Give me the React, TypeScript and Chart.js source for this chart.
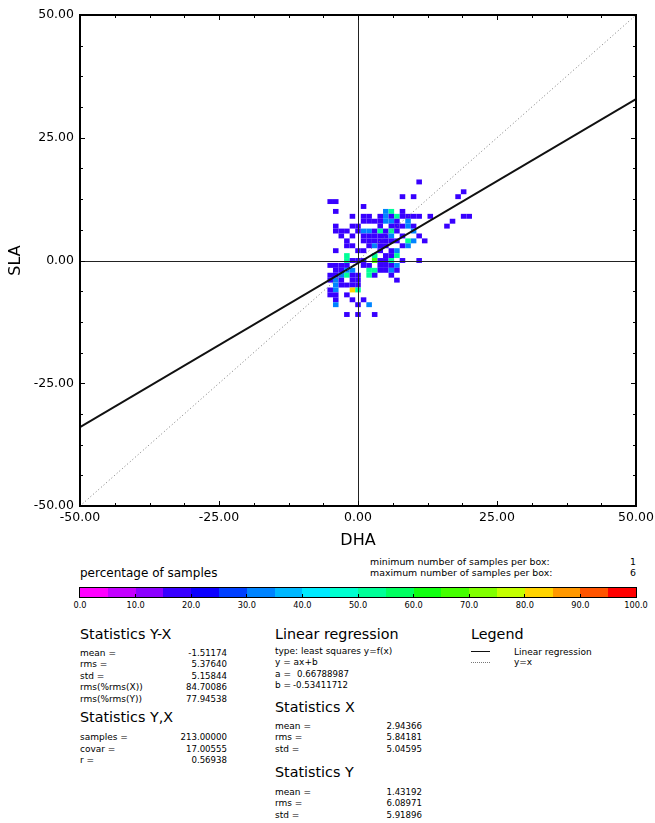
import React, { useEffect, useRef } from 'react';
import { Chart, registerables } from 'chart.js';

Chart.register(...registerables);

const FONT = '"DejaVu Sans", sans-serif';

// ---- data ----
const rowY = [16, 14, 13, 12, 11, 10, 9, 8, 7, 6, 5, 4, 3, 2, 1, 0, -1, -2, -3, -4, -5, -6, -7, -8, -9, -11];
const rowCellX = [
  [11],
  [19],
  [8, 10, 18],
  [-5, -4],
  [1],
  [-4, 5, 6, 8],
  [-1, 1, 2, 4, 5, 6, 7, 8, 9, 10, 11, 13, 19, 20],
  [1, 2, 3, 4, 5, 6, 7, 9, 17],
  [-4, -1, 0, 4, 6, 7, 8, 9, 10, 16],
  [-4, -3, -2, 0, 1, 2, 3, 4, 5, 6, 7, 10],
  [-3, -1, 1, 2, 3, 4, 5, 6, 8, 11],
  [-2, 1, 2, 3, 4, 5, 6, 7, 9, 10, 12],
  [-2, -1, 2, 3, 4, 5, 8, 9],
  [-4, 0, 1, 4, 6, 7],
  [-2, 3, 5, 6, 7],
  [-2, -1, 0, 1, 3, 4, 5, 6, 8, 11],
  [-5, -4, -3, -2, 1, 2, 4, 5, 6, 7],
  [-4, -3, -2, -1, 2, 3, 4, 5, 6, 7],
  [-5, -4, -3, -2, -1, 0, 2, 3, 6],
  [-5, -4, -3, -1, 0, 7],
  [-4, -3, -2, -1, 0],
  [-5, -4, -1, 0],
  [-5, -4, -2],
  [-4, -1, 1],
  [-4, 0, 2],
  [-2, 0, 3],
];
const rowCellCount = [
  [1],
  [1],
  [1, 1, 1],
  [1, 1],
  [1],
  [1, 2, 3, 1],
  [1, 1, 1, 1, 2, 1, 3, 1, 1, 1, 1, 1, 1, 1],
  [1, 1, 1, 1, 2, 2, 1, 2, 1],
  [1, 1, 1, 1, 1, 1, 1, 2, 1, 1],
  [1, 1, 1, 1, 2, 2, 1, 3, 1, 3, 1, 2],
  [1, 1, 1, 1, 1, 1, 1, 2, 1, 1],
  [1, 1, 1, 1, 1, 1, 1, 1, 3, 2, 1],
  [1, 1, 1, 2, 1, 1, 1, 2],
  [1, 1, 1, 1, 1, 2],
  [3, 3, 1, 1, 3],
  [3, 1, 1, 1, 4, 1, 1, 3, 1, 1],
  [1, 1, 1, 1, 1, 1, 1, 1, 1, 2],
  [1, 1, 2, 2, 3, 3, 1, 1, 2, 1],
  [1, 1, 2, 3, 1, 1, 3, 1, 1],
  [1, 2, 1, 1, 1, 1],
  [2, 1, 1, 1, 1],
  [1, 2, 5, 3],
  [1, 1, 1],
  [1, 1, 1],
  [2, 1, 2],
  [1, 1, 1],
];
const minSamplesPerBox = 1;
const maxSamplesPerBox = 6;

const regA = 0.66788987;
const regB = -0.53411712;
const axisMin = -50;
const axisMax = 50;
const majorStep = 25;
const minorStep = 6.25;

const colorBarColors = [
  '#ff00ff', '#c400ff', '#8c00ff', '#3800ff', '#0c00ff',
  '#0040ff', '#0084ff', '#00b8ff', '#00eaff', '#00ffd0',
  '#00ff98', '#00ff60', '#10ff10', '#44ff00', '#80ff00',
  '#c4ff00', '#ffd400', '#ff9800', '#ff5400', '#ff0000',
];
const colorBarLabels = ['0.0', '10.0', '20.0', '30.0', '40.0', '50.0', '60.0', '70.0', '80.0', '90.0', '100.0'];

const statsYX = [
  ['mean =', '-1.51174'],
  ['rms =', '5.37640'],
  ['std =', '5.15844'],
  ['rms(%rms(X))', '84.70086'],
  ['rms(%rms(Y))', '77.94538'],
];
const statsYcX = [
  ['samples =', '213.00000'],
  ['covar =', '17.00555'],
  ['r =', '0.56938'],
];
const statsX = [
  ['mean =', '2.94366'],
  ['rms =', '5.84181'],
  ['std =', '5.04595'],
];
const statsY = [
  ['mean =', '1.43192'],
  ['rms =', '6.08971'],
  ['std =', '5.91896'],
];

function cellColor(count: number) {
  const pct = (count / maxSamplesPerBox) * 100;
  const idx = Math.min(colorBarColors.length - 1, Math.floor(pct / 5));
  return colorBarColors[idx];
}

const heatmapPlugin = {
  id: 'heatmap',
  beforeDatasetsDraw(chart: any) {
    const { ctx, chartArea, scales } = chart;
    const xs = scales.x;
    const ys = scales.y;
    ctx.save();
    ctx.beginPath();
    ctx.rect(chartArea.left, chartArea.top, chartArea.right - chartArea.left, chartArea.bottom - chartArea.top);
    ctx.clip();
    rowY.forEach((yv, r) => {
      rowCellX[r].forEach((xv, c) => {
        const x0 = xs.getPixelForValue(xv - 0.5);
        const x1 = xs.getPixelForValue(xv + 0.5);
        const y0 = ys.getPixelForValue(yv + 0.5);
        const y1 = ys.getPixelForValue(yv - 0.5);
        ctx.fillStyle = cellColor(rowCellCount[r][c]);
        ctx.fillRect(x0, y0, x1 - x0, y1 - y0);
      });
    });
    // zero axis lines
    ctx.strokeStyle = '#222';
    ctx.lineWidth = 1;
    const zx = Math.round(xs.getPixelForValue(0)) + 0.5;
    const zy = Math.round(ys.getPixelForValue(0)) + 0.5;
    ctx.beginPath();
    ctx.moveTo(zx, chartArea.top);
    ctx.lineTo(zx, chartArea.bottom);
    ctx.moveTo(chartArea.left, zy);
    ctx.lineTo(chartArea.right, zy);
    ctx.stroke();
    ctx.restore();
  },
};

const framePlugin = {
  id: 'frame',
  afterDraw(chart: any) {
    const { ctx, chartArea, scales } = chart;
    const xs = scales.x;
    const ys = scales.y;
    const { left, right, top, bottom } = chartArea;
    ctx.save();
    ctx.strokeStyle = '#000';
    ctx.lineWidth = 1;
    ctx.beginPath();
    for (let v = axisMin; v <= axisMax + 1e-9; v += minorStep) {
      const major = Math.abs(v % majorStep) < 1e-9;
      const len = major ? 5 : 3;
      const px = Math.round(xs.getPixelForValue(v)) + 0.5;
      const py = Math.round(ys.getPixelForValue(v)) + 0.5;
      ctx.moveTo(px, bottom);
      ctx.lineTo(px, bottom - len);
      ctx.moveTo(px, top);
      ctx.lineTo(px, top + len);
      ctx.moveTo(left, py);
      ctx.lineTo(left + len, py);
      ctx.moveTo(right, py);
      ctx.lineTo(right - len, py);
    }
    ctx.stroke();
    ctx.lineWidth = 2;
    ctx.strokeRect(left, top, right - left, bottom - top);
    ctx.restore();
  },
};

function T(props: { x: number; y: number; size: number; align?: 'left' | 'right' | 'center'; children: React.ReactNode }) {
  const { x, y, size, align = 'left', children } = props;
  const tr = align === 'right' ? 'translateX(-100%)' : align === 'center' ? 'translateX(-50%)' : undefined;
  return (
    <div
      style={{
        position: 'absolute',
        left: x,
        top: y - size * 0.6,
        fontSize: size,
        lineHeight: `${size * 1.2}px`,
        whiteSpace: 'pre',
        fontFamily: FONT,
        color: '#000',
        transform: tr,
      }}
    >
      {children}
    </div>
  );
}

const LABEL_SIZE = 9;
const NUM_SIZE = 8.6;

function StatBlock(props: { title: string; x: number; valueRight: number; titleY: number; rowYs: number[]; rows: string[][] }) {
  const { title, x, valueRight, titleY, rowYs, rows } = props;
  return (
    <>
      <T x={x} y={titleY} size={14.3}>{title}</T>
      {rows.map((r, i) => (
        <React.Fragment key={i}>
          <T x={x} y={rowYs[i]} size={LABEL_SIZE}>{r[0]}</T>
          <T x={valueRight} y={rowYs[i]} size={NUM_SIZE} align="right">{r[1]}</T>
        </React.Fragment>
      ))}
    </>
  );
}

export default function App() {
  const canvasRef = useRef<HTMLCanvasElement | null>(null);

  useEffect(() => {
    if (!canvasRef.current) return;
    Chart.defaults.font.family = FONT;
    const chart = new Chart(canvasRef.current, {
      type: 'scatter',
      data: {
        datasets: [
          {
            label: 'y=x',
            data: [
              { x: axisMin, y: axisMin },
              { x: axisMax, y: axisMax },
            ],
            showLine: true,
            borderColor: '#777',
            borderWidth: 1,
            borderDash: [1, 2.5],
            pointRadius: 0,
          },
          {
            label: 'Linear regression',
            data: [
              { x: axisMin, y: regA * axisMin + regB },
              { x: axisMax, y: regA * axisMax + regB },
            ],
            showLine: true,
            borderColor: '#111',
            borderWidth: 2,
            pointRadius: 0,
          },
        ],
      },
      options: {
        animation: false,
        responsive: false,
        maintainAspectRatio: false,
        layout: { padding: { top: 15, right: 19, left: 0, bottom: 0 } },
        plugins: { legend: { display: false }, tooltip: { enabled: false } },
        scales: {
          x: {
            type: 'linear',
            min: axisMin,
            max: axisMax,
            ticks: {
              stepSize: majorStep,
              callback: (v: any) => Number(v).toFixed(2),
              font: { family: FONT, size: 12.5 },
              color: '#000',
              maxRotation: 0,
              padding: 4,
            },
            grid: { display: false, drawTicks: false },
            border: { display: false },
            title: { display: true, text: 'DHA', font: { family: FONT, size: 16 }, color: '#000', padding: { top: 0, bottom: 0 } },
            afterFit: (s: any) => {
              s.height = 44;
              s.paddingLeft = 0;
              s.paddingRight = 0;
            },
          },
          y: {
            type: 'linear',
            min: axisMin,
            max: axisMax,
            ticks: {
              stepSize: majorStep,
              callback: (v: any) => Number(v).toFixed(2),
              font: { family: FONT, size: 12.5 },
              color: '#000',
              padding: 6,
            },
            grid: { display: false, drawTicks: false },
            border: { display: false },
            title: { display: true, text: 'SLA', font: { family: FONT, size: 16 }, color: '#000', padding: { top: 6, bottom: 0 } },
            afterFit: (s: any) => {
              s.width = 80;
              s.paddingTop = 0;
              s.paddingBottom = 0;
            },
          },
        },
      },
      plugins: [heatmapPlugin, framePlugin],
    } as any);
    return () => chart.destroy();
  }, []);

  const cbLeft = 80;
  const cbWidth = 556;

  return (
    <div style={{ position: 'absolute', left: 0, top: 0, width: 655, height: 823, background: '#fff', fontFamily: FONT }}>
      <canvas ref={canvasRef} width={655} height={550} style={{ position: 'absolute', left: 0, top: 0, width: 655, height: 550 }} />

      <T x={370} y={562} size={9.4}>minimum number of samples per box:</T>
      <T x={636} y={562} size={9.4} align="right">{String(minSamplesPerBox)}</T>
      <T x={370} y={572.5} size={9.4}>maximum number of samples per box:</T>
      <T x={636} y={572.5} size={9.4} align="right">{String(maxSamplesPerBox)}</T>
      <T x={80} y={573} size={12}>percentage of samples</T>

      <div
        style={{
          position: 'absolute',
          left: cbLeft - 1,
          top: 587,
          width: cbWidth,
          height: 9,
          border: '1px solid #000',
          display: 'flex',
        }}
      >
        {colorBarColors.map((c, i) => (
          <div key={i} style={{ flex: 1, background: c, height: '100%' }} />
        ))}
        {colorBarLabels.slice(1, -1).map((_, i) => (
          <div
            key={'t' + i}
            style={{
              position: 'absolute',
              left: ((i + 1) * cbWidth) / (colorBarLabels.length - 1) - 0.5,
              bottom: 0,
              width: 1,
              height: 3,
              background: '#000',
            }}
          />
        ))}
      </div>
      {colorBarLabels.map((l, i) => (
        <T key={l} x={cbLeft + (i * cbWidth) / (colorBarLabels.length - 1)} y={606} size={8.2} align="center">
          {l}
        </T>
      ))}

      <StatBlock title="Statistics Y-X" x={80} valueRight={227} titleY={635} rowYs={[653, 664.5, 676, 687.5, 699]} rows={statsYX} />
      <StatBlock title="Statistics Y,X" x={80} valueRight={227} titleY={718} rowYs={[737.5, 749, 760.5]} rows={statsYcX} />

      <T x={275} y={635} size={14.3}>Linear regression</T>
      <T x={275} y={651.5} size={LABEL_SIZE}>type: least squares y=f(x)</T>
      <T x={275} y={662.5} size={LABEL_SIZE}>y = ax+b</T>
      <T x={275} y={674} size={LABEL_SIZE}>a =</T>
      <T x={297} y={674} size={NUM_SIZE}>{regA.toFixed(8)}</T>
      <T x={275} y={685.5} size={LABEL_SIZE}>b =</T>
      <T x={293} y={685.5} size={NUM_SIZE}>{regB.toFixed(8)}</T>

      <StatBlock title="Statistics X" x={275} valueRight={422} titleY={708} rowYs={[726.5, 737.5, 749]} rows={statsX} />
      <StatBlock title="Statistics Y" x={275} valueRight={422} titleY={773} rowYs={[792, 803.5, 815]} rows={statsY} />

      <T x={471} y={635} size={14.3}>Legend</T>
      <div style={{ position: 'absolute', left: 471, top: 651, width: 19, height: 0, borderTop: '1.5px solid #111' }} />
      <T x={514} y={652} size={LABEL_SIZE}>Linear regression</T>
      <div style={{ position: 'absolute', left: 471, top: 661.5, width: 19, height: 0, borderTop: '1px dotted #777' }} />
      <T x={514} y={662} size={LABEL_SIZE}>y=x</T>
    </div>
  );
}
